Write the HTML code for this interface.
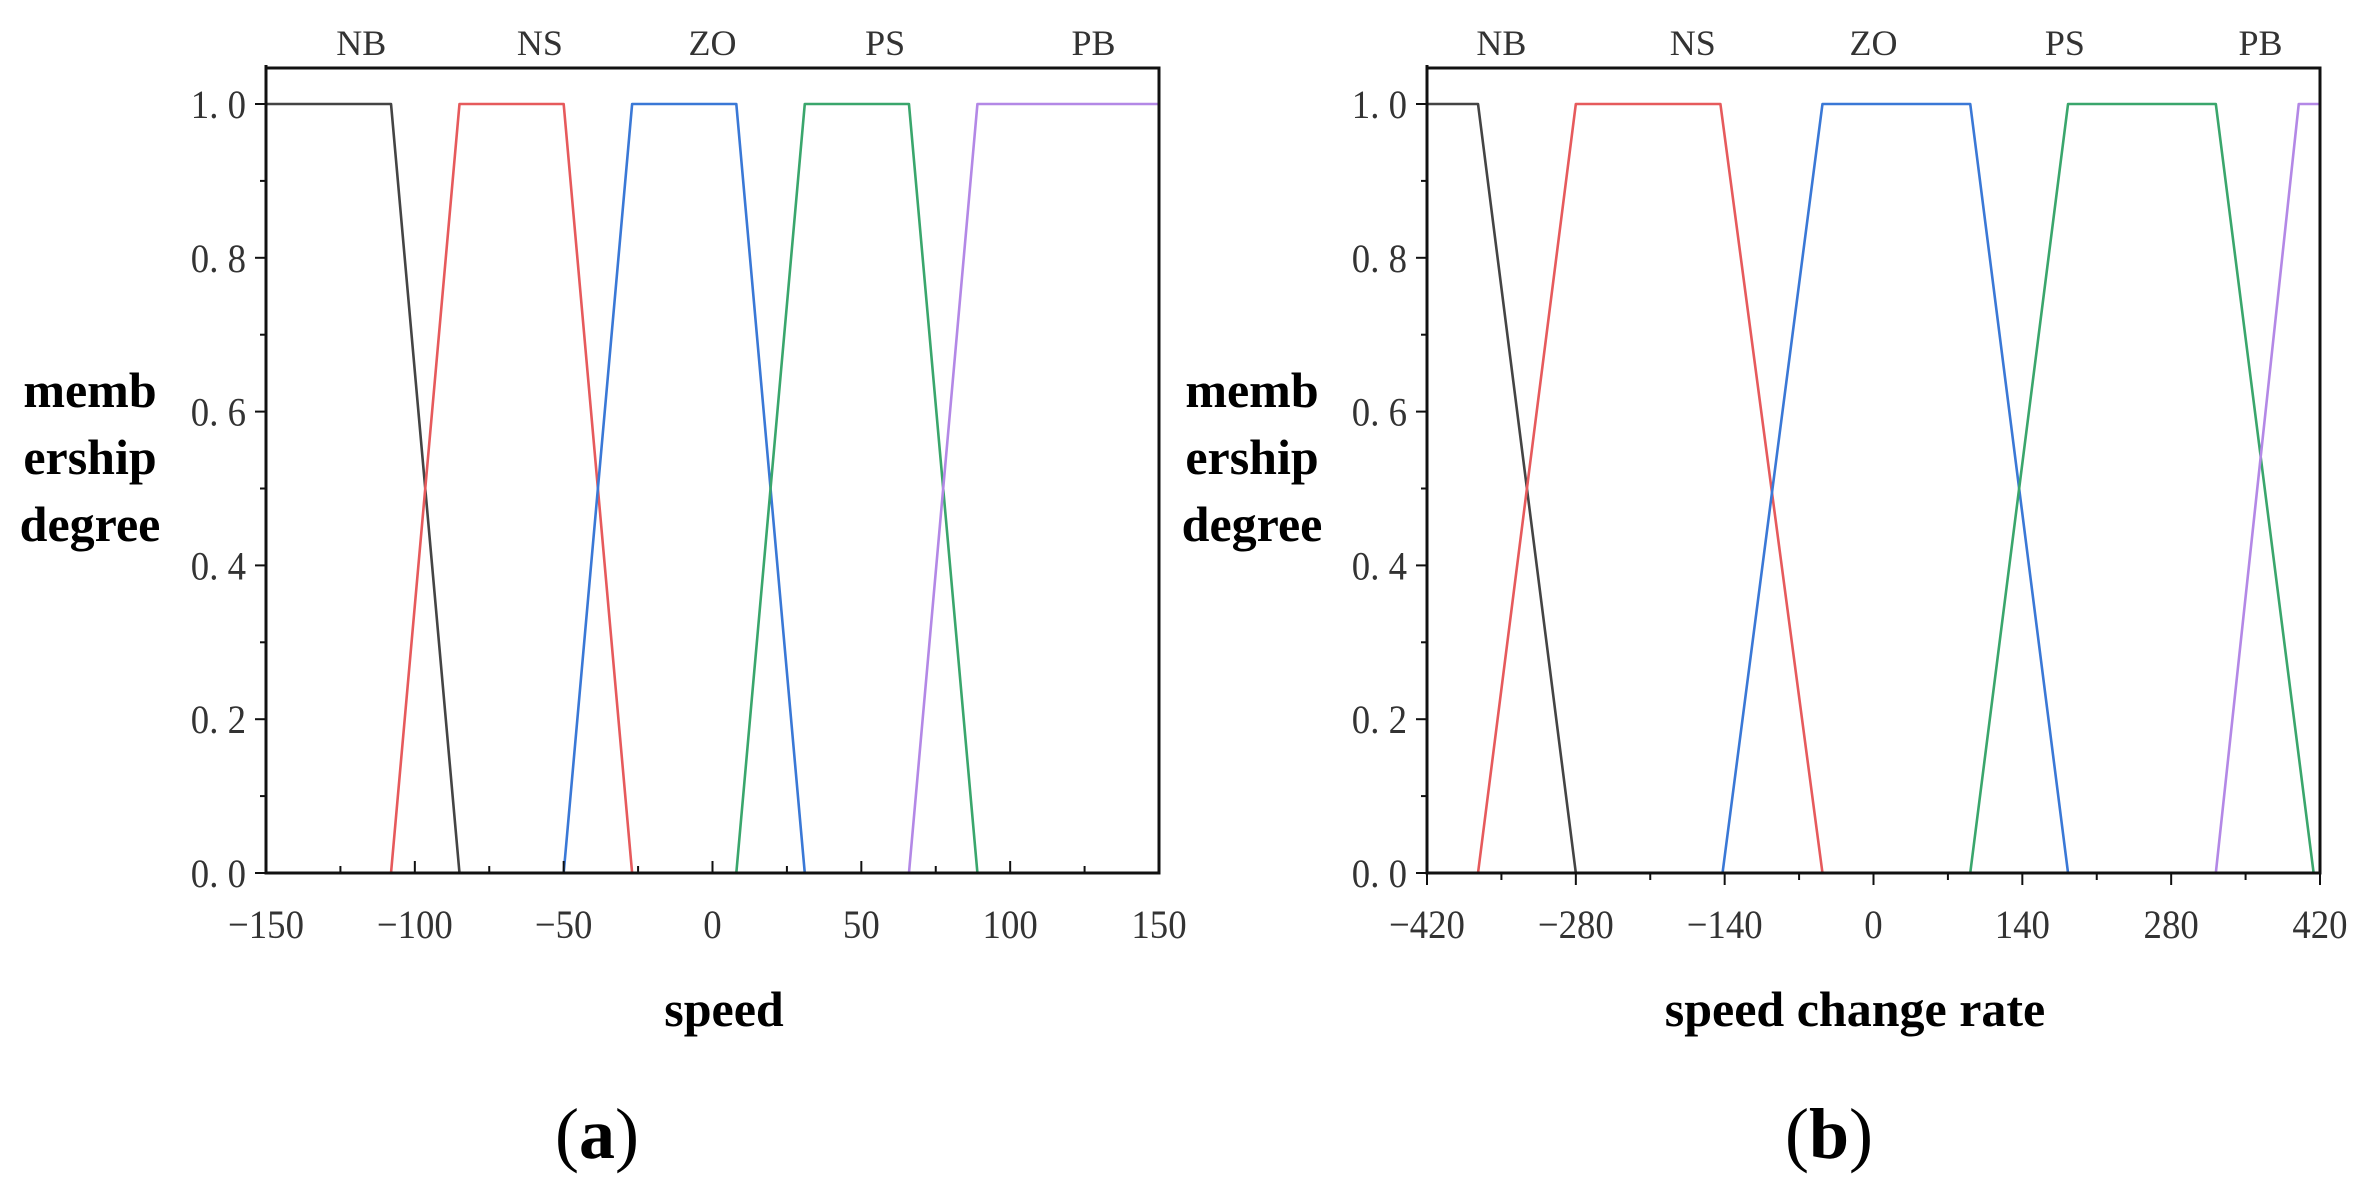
<!DOCTYPE html>
<html><head><meta charset="utf-8"><style>
html,body{margin:0;padding:0;background:#fff;}
svg{display:block;}
.tick{font-family:"Liberation Serif","Noto Serif CJK SC",serif;font-size:40px;fill:#333;}
.mf{font-family:"Liberation Serif","Noto Serif CJK SC",serif;font-size:36px;fill:#333;}
.ttl{font-family:"Liberation Serif",serif;font-size:50px;font-weight:bold;fill:#000;}
.cap{font-family:"Liberation Serif",serif;font-size:72px;fill:#000;}
</style></head><body>
<svg id="fig" width="2367" height="1191" viewBox="0 0 2367 1191" xmlns="http://www.w3.org/2000/svg"></svg>
<script>
const setNames = ["NB","NS","ZO","PS","PB"];
const colors = ["#444444","#e65a5c","#3a78d6","#3aa66c","#b388e6"];
// chart a: speed — breakpoints [x,y] per membership function
const speedTicks = [-150,-100,-50,0,50,100,150];
const speedNB = [[-150,1],[-108,1],[-85,0],[150,0]];
const speedNS = [[-150,0],[-108,0],[-85,1],[-50,1],[-27,0],[150,0]];
const speedZO = [[-150,0],[-50,0],[-27,1],[8,1],[31,0],[150,0]];
const speedPS = [[-150,0],[8,0],[31,1],[66,1],[89,0],[150,0]];
const speedPB = [[-150,0],[66,0],[89,1],[150,1]];
const speedLabelX = [-118,-58,0,58,128];
// chart b: speed change rate
const rateTicks = [-420,-280,-140,0,140,280,420];
const rateNB = [[-420,1],[-372,1],[-280,0],[420,0]];
const rateNS = [[-420,0],[-372,0],[-280,1],[-144,1],[-48,0],[420,0]];
const rateZO = [[-420,0],[-142,0],[-48,1],[91,1],[183,0],[420,0]];
const ratePS = [[-420,0],[91,0],[183,1],[322,1],[414,0],[420,0]];
const ratePB = [[-420,0],[322,0],[400,1],[420,1]];
const rateLabelX = [-350,-170,0,180,364];
const yTicks = [0,0.2,0.4,0.6,0.8,1.0];
const yTickText = ["0. 0","0. 2","0. 4","0. 6","0. 8","1. 0"];

const svg = document.getElementById('fig');
const NS = "http://www.w3.org/2000/svg";
function mk(tag, attrs, parent){const e=document.createElementNS(NS,tag);for(const k in attrs)e.setAttribute(k,attrs[k]);(parent||svg).appendChild(e);return e;}

function chart(cfg){
  const g = mk('g',{});
  
  
  const L=cfg.left,R=cfg.right,T=68,Y0=873,Y1=104;
  const xs=v=>L+(v-cfg.min)/(cfg.max-cfg.min)*(R-L);
  const ys=v=>Y0-(v)*(Y0-Y1);
  cfg.series.forEach((s,i)=>{
    const p=mk('polyline',{points:s.map(d=>xs(d[0])+','+ys(d[1])).join(' '),fill:'none',stroke:colors[i],'stroke-width':2.6,'stroke-linejoin':'round'},g);
    
    
  });
  const fr=mk('path',{d:`M${L},${T-3} L${L},${Y0} L${R},${Y0} L${R},${T} L${L},${T}`,fill:'none',stroke:'#111','stroke-width':3},g);
  
  
  for(let k=0;k<=10;k++){
    const y=ys(k/10);
    mk('line',{x1:L-(k%2==0?11:6),x2:L,y1:y,y2:y,stroke:'#111','stroke-width':2},g);
  }
  yTicks.forEach((v,i)=>{
    const t=mk('text',{x:L-20,y:ys(v)+14,'text-anchor':'end',class:'tick',transform:`translate(${(L-20)*0.08},0) scale(0.92,1)`},g);
    t.textContent=yTickText[i];
    
    
  });
  const tk=cfg.xTicks;
  for(let i=0;i<tk.length;i++){
    const x=xs(tk[i]);
    mk('line',{x1:x,x2:x,y1:Y0,y2:Y0+cfg.tickDir*12,stroke:'#111','stroke-width':2},g);
    if(i<tk.length-1){const xm=xs((tk[i]+tk[i+1])/2);mk('line',{x1:xm,x2:xm,y1:Y0,y2:Y0+cfg.tickDir*7,stroke:'#111','stroke-width':2},g);}
    const t=mk('text',{x:x,y:938,'text-anchor':'middle',class:'tick',transform:`translate(${x*0.08},0) scale(0.92,1)`},g);
    t.textContent=(tk[i]<0?'\u2212':'')+Math.abs(tk[i]);
    
    
  }
  cfg.labelX.forEach((v,i)=>{
    const t=mk('text',{x:xs(v),y:55,'text-anchor':'middle',class:'mf'},g);
    t.textContent=setNames[i];
    
    
  });
  ["memb","ership","degree"].forEach((s,i)=>{
    const t=mk('text',{x:cfg.yTitleX,y:407+i*67,'text-anchor':'middle',class:'ttl'},g);
    t.textContent=s;
    
    
  });
  const xt=mk('text',{x:cfg.xTitleX,y:1026,'text-anchor':'middle',class:'ttl'},g);
  xt.textContent=cfg.xTitle;
  
  
  const cp=mk('text',{x:cfg.capX,y:1158,'text-anchor':'middle',class:'cap'},g);
  cp.innerHTML='(<tspan font-weight="bold">'+cfg.cap+'</tspan>)';
  
  
}
chart({name:'chart-speed',left:266,right:1159,min:-150,max:150,xTicks:speedTicks,series:[speedNB,speedNS,speedZO,speedPS,speedPB],labelX:speedLabelX,tickDir:-1,yTitleX:90,xTitle:'speed',xTitleX:724,cap:'a',capX:597});
chart({name:'chart-speed-change-rate',left:1427,right:2320,min:-420,max:420,xTicks:rateTicks,series:[rateNB,rateNS,rateZO,ratePS,ratePB],labelX:rateLabelX,tickDir:1,yTitleX:1252,xTitle:'speed change rate',xTitleX:1855,cap:'b',capX:1829});
</script>
</body></html>
